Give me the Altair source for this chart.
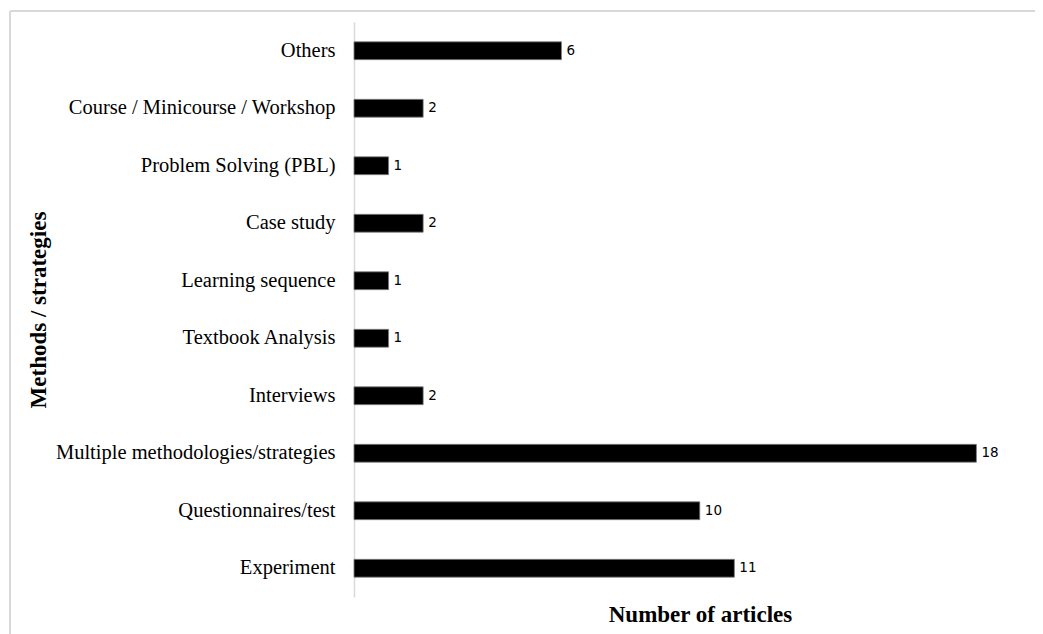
import altair as alt
import pandas as pd

categories = [
    "Others",
    "Course / Minicourse / Workshop",
    "Problem Solving (PBL)",
    "Case study",
    "Learning sequence",
    "Textbook Analysis",
    "Interviews",
    "Multiple methodologies/strategies",
    "Questionnaires/test",
    "Experiment",
]
counts = [6, 2, 1, 2, 1, 1, 2, 18, 10, 11]

df = pd.DataFrame({"cat": categories, "n": counts})

W, H = 657, 575

x_enc = alt.X("n:Q", scale=alt.Scale(domain=[0, 19], nice=False), title="Number of articles",
              axis=alt.Axis(labels=False, ticks=False, domain=False, grid=False,
                            titleFont="Liberation Serif", titleFontSize=23, titleFontWeight="bold",
                            titleColor="#000000", titlePadding=6, titleX=346, titleAlign="center"))
y_enc = alt.Y("cat:N", sort=categories, title="Methods / strategies",
              scale=alt.Scale(paddingInner=0.69, paddingOuter=0.345),
              axis=alt.Axis(ticks=False, domainColor="#d9d9d9", domainWidth=1.5,
                            labelFont="Liberation Serif", labelFontSize=20.5, labelColor="#000000",
                            labelPadding=19, labelLimit=400,
                            titleFont="Liberation Serif", titleFontSize=23, titleFontWeight="bold",
                            titleColor="#000000", titleX=-316, titleY=287.5, titleAngle=270,
                            titleAlign="center", titleBaseline="middle"))

bars = alt.Chart(df).mark_bar(color="#000000", stroke="#7f7f7f", strokeWidth=0.8).encode(x=x_enc, y=y_enc)
labels = alt.Chart(df).mark_text(align="left", dx=5, font="DejaVu Sans", fontSize=13.5, color="#000000").encode(
    x="n:Q", y=alt.Y("cat:N", sort=categories), text="n:Q")

border_top = alt.Chart(df).mark_rule(color="#d9d9d9", strokeWidth=1.5).encode(
    x=alt.value(-344), x2=alt.value(900), y=alt.value(-11))
border_left = alt.Chart(df).mark_rule(color="#d9d9d9", strokeWidth=1.5).encode(
    x=alt.value(-344), y=alt.value(-11), y2=alt.value(700))

chart = alt.layer(bars, labels, border_top, border_left).properties(
    width=W, height=H,
    autosize=alt.AutoSizeParams(type="none"),
    padding={"left": 346, "top": 14, "right": 24, "bottom": 37},
).configure_view(stroke=None)

chart.save("out.html", embed_options={"renderer": "svg", "actions": False})
